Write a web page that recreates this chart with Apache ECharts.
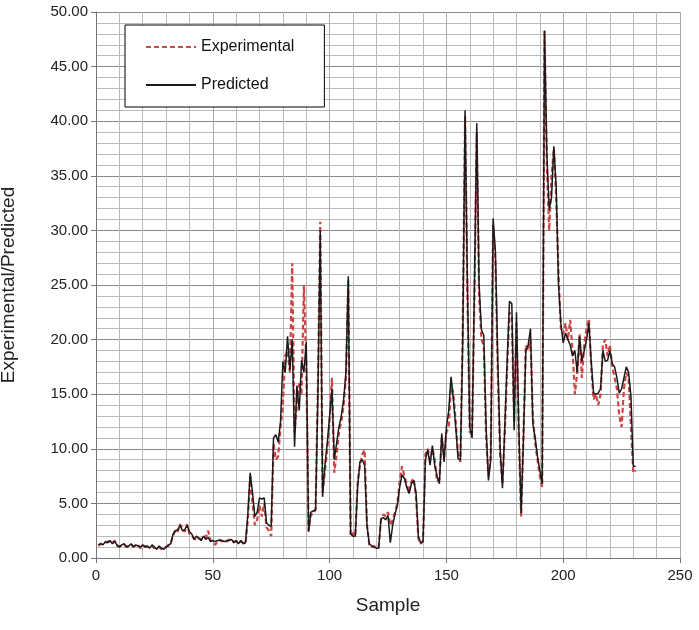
<!DOCTYPE html>
<html>
<head>
<meta charset="utf-8">
<script src="https://cdn.jsdelivr.net/npm/echarts@6/dist/echarts.min.js"></script>
<style>
  html, body { margin: 0; padding: 0; background: #fff; }
  #main { width: 699px; height: 630px; }
</style>
</head>
<body>
<div id="main"></div>
<script>
// values, sample number = index + 1
var predicted = [
  1.2, 1.3, 1.2, 1.5, 1.4, 1.6, 1.3, 1.5, 1.2, 1.0,
  1.2, 1.3, 1.0, 1.1, 1.3, 1.0, 1.2, 1.1, 1.0, 1.2,
  1.0, 1.1, 0.9, 1.2, 1.0, 0.8, 1.1, 0.9, 0.8, 1.0,
  1.2, 1.3, 2.2, 2.5, 2.6, 3.0, 2.5, 2.6, 3.0, 2.4,
  2.2, 1.7, 2.0, 1.8, 1.6, 2.0, 1.7, 1.9, 1.5, 1.6,
  1.5, 1.6, 1.6, 1.6, 1.5, 1.6, 1.6, 1.7, 1.4, 1.6,
  1.3, 1.6, 1.3, 1.4, 4.0, 7.8, 6.0, 3.8, 4.2, 5.5,
  5.4, 5.5, 3.2, 3.0, 2.9, 11.0, 11.3, 10.6, 12.5, 18.0,
  17.0, 20.3, 17.2, 20.0, 10.2, 15.8, 13.5, 18.1, 17.0, 19.8,
  2.4, 4.2, 4.3, 4.4, 15.0, 30.0, 5.6, 8.5, 10.5, 13.0,
  15.5, 9.0, 10.5, 12.0, 13.0, 14.5, 17.0, 25.8, 2.2, 2.0,
  2.0, 6.5, 8.8, 9.0, 8.5, 3.0, 1.3, 1.1, 1.0, 0.9,
  0.9, 3.6, 3.7, 3.5, 3.9, 1.4, 3.0, 4.0, 4.8, 6.5,
  7.6, 7.3, 6.5, 5.9, 6.8, 7.1, 6.0, 2.0, 1.35, 1.5,
  9.0, 9.9, 8.5, 10.3, 8.5, 7.5, 6.8, 11.4, 8.8, 12.0,
  13.5, 16.6, 14.5, 12.0, 9.1, 9.0, 20.0, 41.0, 25.0, 12.0,
  11.0, 25.0, 39.8, 25.0, 20.9, 20.4, 12.0, 7.1, 9.0, 31.1,
  28.0, 18.0, 10.0, 6.4, 12.0, 18.0, 23.5, 23.3, 11.7, 22.5,
  12.0, 4.1, 11.0, 19.0, 19.5, 21.0, 12.3, 11.0, 9.3, 8.0,
  6.8, 48.3, 37.0, 31.9, 33.0, 37.7, 34.0, 25.0, 21.5, 19.7,
  20.6, 20.0, 19.5, 18.5, 19.0, 17.0, 20.3, 18.0, 19.0, 20.0,
  21.5, 18.0, 15.1, 15.0, 15.1, 15.5, 19.0, 18.0, 18.1, 19.0,
  17.8, 17.5, 16.5, 15.1, 15.5, 16.5, 17.5, 17.0, 14.8, 8.4,
  8.4
];
var experimental = [
  1.1, 1.3, 1.3, 1.4, 1.5, 1.5, 1.4, 1.6, 1.1, 1.1,
  1.1, 1.2, 1.1, 1.0, 1.2, 1.1, 1.1, 1.2, 0.9, 1.1,
  1.1, 1.0, 1.0, 1.1, 0.9, 0.9, 1.0, 0.8, 0.9, 1.0,
  1.1, 1.4, 2.0, 2.6, 2.4, 3.1, 2.7, 2.4, 3.1, 2.2,
  2.0, 1.8, 1.6, 1.8, 1.7, 2.0, 1.9, 2.5, 1.6, 1.5,
  1.2, 1.5, 1.7, 1.5, 1.6, 1.5, 1.7, 1.6, 1.5, 1.5,
  1.4, 1.5, 1.4, 1.3, 3.5, 7.5, 5.0, 3.0, 3.5, 4.8,
  3.8, 5.0, 2.8, 2.5, 2.0, 10.5, 9.0, 9.3, 12.0, 14.0,
  18.5, 19.0, 17.0, 27.0, 11.5, 14.0, 16.0, 15.0, 25.0, 18.0,
  2.5, 4.0, 4.0, 4.5, 16.0, 30.8, 6.0, 8.0, 10.0, 12.5,
  16.5, 7.8, 9.5, 11.5, 12.5, 14.0, 16.5, 25.5, 2.0, 2.3,
  2.0, 7.0, 8.5, 9.5, 9.9, 3.0, 1.2, 1.0, 1.1, 0.9,
  1.0, 3.5, 4.0, 3.8, 4.2, 3.0, 3.5, 4.2, 5.0, 7.0,
  8.4, 7.5, 6.8, 6.0, 7.0, 7.3, 5.5, 1.8, 1.3, 1.6,
  9.5, 10.0, 9.0, 10.0, 9.0, 7.0, 7.2, 11.0, 9.2, 11.5,
  12.0, 16.0, 15.0, 12.5, 9.5, 8.8, 21.0, 40.5, 24.0, 11.5,
  11.5, 24.0, 39.0, 24.0, 20.0, 19.5, 11.0, 7.5, 9.5, 30.5,
  27.0, 17.0, 9.5, 6.8, 11.5, 17.5, 22.5, 22.0, 12.5, 21.5,
  11.0, 3.8, 11.5, 19.5, 19.0, 20.0, 13.0, 10.5, 9.0, 7.5,
  6.5, 48.3, 36.0, 30.0, 35.0, 37.5, 33.0, 26.0, 21.0, 20.5,
  21.5, 20.0, 21.8, 19.0, 15.0, 17.0, 20.5, 16.5, 19.5, 21.0,
  21.9, 17.5, 14.5, 15.0, 14.0, 15.0, 19.5, 20.0, 18.5, 19.5,
  17.5, 16.5, 15.5, 13.0, 12.0, 15.5, 17.0, 16.5, 12.0, 7.8,
  8.0
];
var seriesNames = ["Experimental", "Predicted"];
var xTicks = [0, 50, 100, 150, 200, 250];
var yTicks = [0, 5, 10, 15, 20, 25, 30, 35, 40, 45, 50];

function toPairs(arr) {
  return arr.map(function (v, i) { return [i + 1, v]; });
}

var myChart = echarts.init(document.getElementById("main"));
var font = "Liberation Sans, Arial, sans-serif";

var option = {
  animation: false,
  textStyle: { fontFamily: font },
  grid: { left: 96, right: 19, top: 12, bottom: 72, outerBoundsMode: "none" },
  legend: {
    data: seriesNames,
    orient: "vertical",
    left: 125,
    top: 25,
    padding: [14, 30, 14, 20],
    itemGap: 22,
    itemWidth: 50,
    itemHeight: 16,
    backgroundColor: "#fff",
    borderColor: "#000",
    borderWidth: 1,
    itemStyle: { opacity: 0 },
    textStyle: { fontSize: 16, color: "#111", fontFamily: font }
  },
  xAxis: {
    type: "value",
    min: xTicks[0],
    max: xTicks[xTicks.length - 1],
    interval: 50,
    name: "Sample",
    nameLocation: "middle",
    nameGap: 38,
    nameTextStyle: { fontSize: 19, color: "#222" },
    axisLine: { lineStyle: { color: "#777" } },
    axisTick: { show: true, length: 5, lineStyle: { color: "#777" } },
    axisLabel: { fontSize: 15, color: "#222", margin: 10 },
    splitLine: { show: true, lineStyle: { color: "#aaa", width: 1 } },
    minorTick: { show: false, splitNumber: 5 },
    minorSplitLine: { show: true, lineStyle: { color: "#bbb", width: 1 } }
  },
  yAxis: {
    type: "value",
    min: yTicks[0],
    max: yTicks[yTicks.length - 1],
    interval: 5,
    name: "Experimental/Predicted",
    nameLocation: "middle",
    nameGap: 78,
    nameTextStyle: { fontSize: 19, color: "#222" },
    axisLine: { show: true, lineStyle: { color: "#777" } },
    axisTick: { show: true, length: 5, lineStyle: { color: "#777" } },
    axisLabel: {
      fontSize: 15,
      color: "#222",
      margin: 8,
      formatter: function (v) { return v.toFixed(2); }
    },
    splitLine: { show: true, lineStyle: { color: "#888", width: 1 } },
    minorTick: { show: false, splitNumber: 5 },
    minorSplitLine: { show: true, lineStyle: { color: "#bbb", width: 1 } }
  },
  series: [
    {
      name: seriesNames[0],
      type: "line",
      symbol: "none",
      data: toPairs(experimental),
      itemStyle: { color: "#cc4444" },
      lineStyle: { color: "#cc4444", width: 2.2, type: [5, 3] }
    },
    {
      name: seriesNames[1],
      type: "line",
      symbol: "none",
      data: toPairs(predicted),
      itemStyle: { color: "#1a1a1a" },
      lineStyle: { color: "#1a1a1a", width: 1.5 }
    }
  ]
};
myChart.setOption(option);
</script>
</body>
</html>
